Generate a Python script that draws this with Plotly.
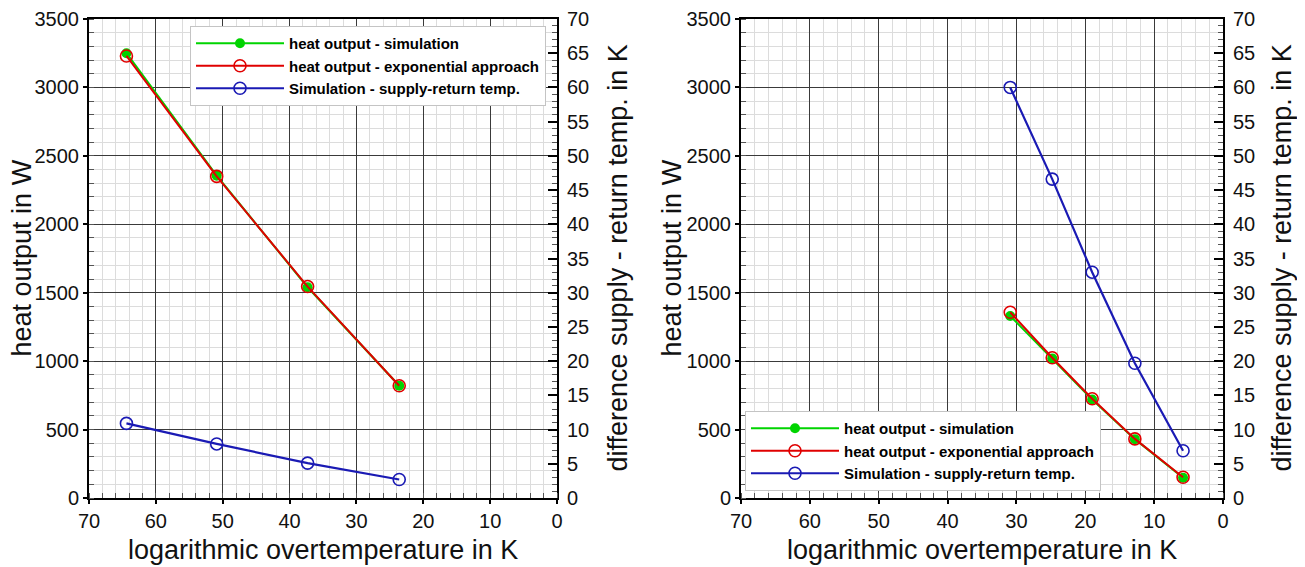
import plotly.graph_objects as go

# ---- data ----
left_x = [64.4, 50.9, 37.3, 23.6]
left_sim = [3250, 2355, 1540, 820]
left_exp = [3230, 2350, 1545, 820]
left_dT = [10.9, 7.9, 5.1, 2.7]

right_x = [30.9, 24.8, 19.0, 12.8, 5.8]
right_sim = [1330, 1020, 720, 430, 148]
right_exp = [1357, 1025, 725, 432, 152]
right_dT = [60.0, 46.6, 33.0, 19.7, 6.9]

names = ["heat output - simulation", "heat output - exponential approach",
         "Simulation - supply-return temp."]
x_title = "logarithmic overtemperature in K"
y_title = "heat output in W"
y2_title = "difference supply - return temp. in K"

W, H = 1305, 567
OFF = 8  # page body margin of the html page
GREEN, RED, BLUE = "#00d400", "#e00000", "#1a1ab4"
FONT = "Liberation Sans, Arial, Helvetica, sans-serif"


def fx(px):
    return (px - OFF) / W


def fy(py):
    return 1 - (py - OFF) / H


fig = go.Figure()


def add_panel(xs, sim, exp, dT, xa, ya, ya2, leg):
    fig.add_trace(go.Scatter(x=xs, y=sim, name=names[0], mode="lines+markers",
                             line=dict(color=GREEN, width=2),
                             marker=dict(symbol="circle", size=10, color=GREEN),
                             xaxis=xa, yaxis=ya, legend=leg))
    fig.add_trace(go.Scatter(x=xs, y=exp, name=names[1], mode="lines+markers",
                             line=dict(color=RED, width=2),
                             marker=dict(symbol="circle-open", size=12, color=RED,
                                         line=dict(width=1.6)),
                             xaxis=xa, yaxis=ya, legend=leg))
    fig.add_trace(go.Scatter(x=xs, y=dT, name=names[2], mode="lines+markers",
                             line=dict(color=BLUE, width=2.2),
                             marker=dict(symbol="circle-open", size=12, color=BLUE,
                                         line=dict(width=1.6)),
                             xaxis=xa, yaxis=ya2, legend=leg))


add_panel(left_x, left_sim, left_exp, left_dT, "x", "y", "y2", "legend")
add_panel(right_x, right_sim, right_exp, right_dT, "x2", "y3", "y4", "legend2")

ydom = [fy(498), fy(19)]
xdom1 = [fx(89), fx(557)]
xdom2 = [fx(741), fx(1223)]

tickfont = dict(family=FONT, size=20, color="#111")


def xaxis(dom, anchor):
    return dict(domain=dom, anchor=anchor, range=[70, 0], tick0=0, dtick=10,
                automargin=False,
                showline=True, linecolor="black", linewidth=2, mirror=True,
                showgrid=True, gridcolor="#3a3a3a", gridwidth=1.3,
                ticks="outside", ticklen=4, tickcolor="black", tickwidth=1.5,
                tickfont=tickfont, zeroline=False,
                minor=dict(dtick=2, showgrid=True, gridcolor="#dcdcdc", gridwidth=1,
                           ticks="inside", ticklen=5, tickcolor="#555", tickwidth=1))


def yaxis(anchor):
    return dict(domain=ydom, anchor=anchor, range=[0, 3500], dtick=500,
                automargin=False,
                showline=True, linecolor="black", linewidth=2,
                showgrid=True, gridcolor="#3a3a3a", gridwidth=1.3,
                ticks="outside", ticklen=4, tickcolor="black", tickwidth=1.5,
                tickfont=tickfont, zeroline=False,
                minor=dict(dtick=100, showgrid=True, gridcolor="#dcdcdc", gridwidth=1,
                           ticks="inside", ticklen=5, tickcolor="#555", tickwidth=1))


def y2axis(anchor, over):
    return dict(overlaying=over, anchor=anchor, side="right", range=[0, 70], dtick=5,
                automargin=False,
                showline=True, linecolor="black", linewidth=2,
                showgrid=False, zeroline=False,
                ticks="inside", ticklen=9, tickcolor="black", tickwidth=2,
                tickfont=tickfont, ticklabelstandoff=4,
                minor=dict(dtick=1, ticks="inside", ticklen=5, tickcolor="#555",
                           tickwidth=1, showgrid=False))


legend_common = dict(bgcolor="white", bordercolor="#c4c4c4", borderwidth=1,
                     font=dict(family=FONT, size=15, color="black", weight="bold"),
                     itemwidth=88, tracegroupgap=0, itemsizing="trace")

fig.update_layout(
    width=W, height=H, margin=dict(l=0, r=0, t=0, b=0, autoexpand=False),
    paper_bgcolor="white", plot_bgcolor="white",
    xaxis=xaxis(xdom1, "y"), yaxis=yaxis("x"), yaxis2=y2axis("x", "y"),
    xaxis2=xaxis(xdom2, "y3"), yaxis3=yaxis("x2"), yaxis4=y2axis("x2", "y3"),
    legend=dict(x=fx(190), y=fy(26), xanchor="left", yanchor="top", **legend_common),
    legend2=dict(x=fx(745), y=fy(491), xanchor="left", yanchor="bottom", **legend_common),
    showlegend=True,
)

title_font = dict(family=FONT, size=27, color="#111")
annos = [
    (323, 550, x_title, 0), (982, 550, x_title, 0),
    (21, 258.5, y_title, -90), (671, 258.5, y_title, -90),
    (617, 258.5, y2_title, -90), (1281, 258.5, y2_title, -90),
]
for px, py, txt, ang in annos:
    fig.add_annotation(x=fx(px), y=fy(py), xref="paper", yref="paper",
                       text=txt, showarrow=False, textangle=ang,
                       xanchor="center", yanchor="middle", font=title_font)

fig.write_html("out.html")
